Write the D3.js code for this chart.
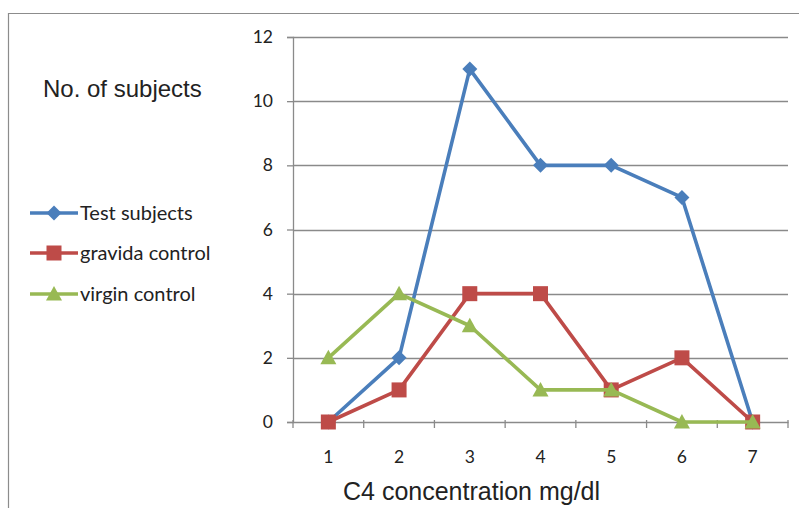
<!DOCTYPE html>
<html><head><meta charset="utf-8">
<script src="https://cdn.jsdelivr.net/npm/d3@7"></script>
<style>body{margin:0;background:#fff}svg{display:block}</style>
</head><body>
<svg id="c" width="799" height="508"></svg>
<script>
const categories = ["1","2","3","4","5","6","7"];
const testSubjects = [0,2,11,8,8,7,0];
const gravidaControl = [0,1,4,4,1,2,0];
const virginControl = [2,4,3,1,1,0,0];
const yTicks = [0,2,4,6,8,10,12];
const seriesNames = ["Test subjects","gravida control","virgin control"];
const colors = ["#4A7EBB","#BE4B48","#98B954"];
const markers = ["diamond","square","triangle"];

const svg = d3.select("#c");
const L = 293, R = 788, T = 37, B = 422;
const x = d3.scaleBand().domain(categories).range([L, R]);
const y = d3.scaleLinear().domain([0, 12]).range([B, T]);
const tickFont = "Lato, 'Open Sans', sans-serif";

// outer border
svg.append("path").attr("d","M8.5,508 L8.5,13.5 L799,13.5").attr("fill","none").attr("stroke","#8c8c8c").attr("stroke-width",1.2);

// gridlines
svg.append("g").selectAll("line").data(yTicks.filter(d=>d>0)).join("line")
  .attr("x1",L).attr("x2",R).attr("y1",d=>Math.round(y(d))+0.5).attr("y2",d=>Math.round(y(d))+0.5)
  .attr("stroke","#8a8a8a").attr("stroke-width",1.3);

// y axis
const yAx = svg.append("g").attr("transform",`translate(${L},0)`)
  .call(d3.axisLeft(y).tickValues(yTicks).tickSize(6).tickPadding(14));
yAx.select(".domain").attr("stroke","#8a8a8a").attr("stroke-width",1.3);
yAx.selectAll(".tick line").attr("stroke","#8a8a8a").attr("stroke-width",1.3);
yAx.selectAll("text").attr("font-family",tickFont).attr("font-size",17.5).attr("fill","#222");

// x axis
const xAx = svg.append("g").attr("transform",`translate(0,${B})`)
  .call(d3.axisBottom(x).tickSize(0).tickPadding(29));
xAx.select(".domain").attr("stroke","#8a8a8a").attr("stroke-width",1.3);
xAx.selectAll("text").attr("font-family",tickFont).attr("font-size",17.5).attr("fill","#222");
const bounds = categories.map(c=>x(c)).concat([R]);
svg.append("g").selectAll("line").data(bounds).join("line")
  .attr("x1",d=>d).attr("x2",d=>d).attr("y1",B-2).attr("y2",B+6)
  .attr("stroke","#8a8a8a").attr("stroke-width",1.3);

// series
const all = [testSubjects, gravidaControl, virginControl];
const line = d3.line().x((d,i)=>x(categories[i])+x.bandwidth()/2).y(d=>y(d));
function marker(g, type, cx, cy, color){
  if(type==="diamond"){
    g.append("path").attr("d",`M${cx},${cy-7.5} L${cx+7.5},${cy} L${cx},${cy+7.5} L${cx-7.5},${cy} Z`).attr("fill",color);
  } else if(type==="square"){
    g.append("rect").attr("x",cx-7.5).attr("y",cy-7.5).attr("width",15).attr("height",15).attr("fill",color);
  } else {
    g.append("path").attr("d",`M${cx},${cy-8} L${cx+8},${cy+6.5} L${cx-8},${cy+6.5} Z`).attr("fill",color);
  }
}
all.forEach((vals,si)=>{
  const g = svg.append("g");
  g.append("path").attr("d",line(vals)).attr("fill","none").attr("stroke",colors[si]).attr("stroke-width",3.6).attr("stroke-linejoin","round");
  vals.forEach((v,i)=>marker(g, markers[si], x(categories[i])+x.bandwidth()/2, y(v), colors[si]));
});

// legend
const legY = [213,253,294];
seriesNames.forEach((n,i)=>{
  const g = svg.append("g");
  g.append("line").attr("x1",30).attr("x2",78).attr("y1",legY[i]).attr("y2",legY[i]).attr("stroke",colors[i]).attr("stroke-width",3.6);
  marker(g, markers[i], 54, legY[i], colors[i]);
  g.append("text").attr("x",80).attr("y",legY[i]+7).text(n)
   .attr("font-family",tickFont).attr("font-size",20).attr("fill","#222");
});

// titles
svg.append("text").attr("x",43).attr("y",97).text("No. of subjects")
  .attr("font-family","'Liberation Sans', Arial, sans-serif").attr("font-size",24).attr("fill","#222");
svg.append("text").attr("x",343).attr("y",500).text("C4 concentration mg/dl")
  .attr("font-family","'Liberation Sans', Arial, sans-serif").attr("font-size",25).attr("fill","#222");
</script>
</body></html>
